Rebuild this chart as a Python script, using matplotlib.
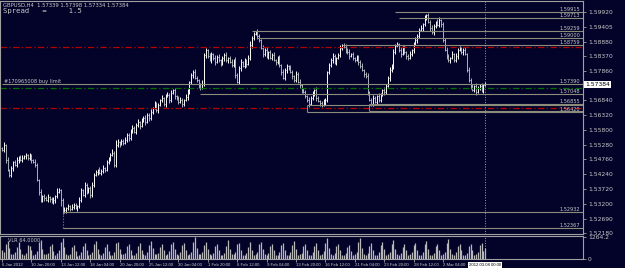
import matplotlib
matplotlib.use('Agg')
import matplotlib.pyplot as plt
import numpy as np

# GBPUSD H4 closes
closes = [1.5509, 1.5527, 1.5474, 1.5439, 1.5422,
          1.5446, 1.5467, 1.5457, 1.5474, 1.5485, 1.5474,
          1.5481, 1.5488, 1.5492, 1.5481, 1.5488, 1.5474, 1.5467, 1.5457,
          1.5404, 1.5362, 1.5334, 1.5348,
          1.5341, 1.5334, 1.5345, 1.5338, 1.5327, 1.5334, 1.5348, 1.5362,
          1.5369, 1.5334, 1.5292,
          1.5299, 1.5306, 1.5313, 1.5303, 1.5310, 1.5317, 1.5306, 1.5313, 1.5334,
          1.5369, 1.5352, 1.5387, 1.5362, 1.5376,
          1.5352, 1.5387, 1.5422,
          1.5432, 1.5439, 1.5429, 1.5436, 1.5446, 1.5439,
          1.5467, 1.5481, 1.5492, 1.5499, 1.5457,
          1.5527, 1.5537, 1.5530, 1.5541, 1.5534,
          1.5544, 1.5562, 1.5551, 1.5579, 1.5586, 1.5572, 1.5597, 1.5607, 1.5593, 1.5614,
          1.5621, 1.5607, 1.5632, 1.5621, 1.5642, 1.5656, 1.5670, 1.5649, 1.5667, 1.5684,
          1.5691, 1.5670, 1.5698, 1.5702, 1.5684, 1.5709, 1.5719, 1.5698, 1.5691, 1.5677,
          1.5684,
          1.5670, 1.5684, 1.5695, 1.5712,
          1.5747, 1.5771, 1.5782,
          1.5761, 1.5754, 1.5736, 1.5726, 1.5740,
          1.5841, 1.5859,
          1.5838, 1.5824, 1.5845, 1.5831, 1.5817, 1.5834, 1.5824, 1.5810, 1.5831, 1.5841,
          1.5824, 1.5831, 1.5817, 1.5806, 1.5824,
          1.5771, 1.5747,
          1.5796, 1.5817, 1.5803, 1.5824, 1.5810, 1.5831,
          1.5876, 1.5901,
          1.5915, 1.5922, 1.5908, 1.5894,
          1.5866, 1.5845, 1.5859, 1.5838, 1.5852,
          1.5831, 1.5841, 1.5824, 1.5817, 1.5831,
          1.5806, 1.5782, 1.5761,
          1.5789, 1.5803, 1.5796, 1.5782,
          1.5768, 1.5754, 1.5775, 1.5747,
          1.5736, 1.5719, 1.5712,
          1.5698, 1.5684, 1.5670, 1.5691,
          1.5705, 1.5719, 1.5691, 1.5681,
          1.5674, 1.5667, 1.5677,
          1.5684,
          1.5782, 1.5806,
          1.5824, 1.5838, 1.5817, 1.5831, 1.5841,
          1.5866, 1.5876, 1.5870, 1.5859,
          1.5852, 1.5838, 1.5845, 1.5831, 1.5824, 1.5834,
          1.5817, 1.5803, 1.5789, 1.5775, 1.5768,
          1.5712, 1.5684, 1.5670,
          1.5691, 1.5677, 1.5698, 1.5684,
          1.5702, 1.5719, 1.5712, 1.5733,
          1.5761, 1.5789, 1.5806,
          1.5852, 1.5873, 1.5880,
          1.5859, 1.5845, 1.5866, 1.5852, 1.5838, 1.5831, 1.5845, 1.5859,
          1.5880, 1.5894, 1.5908,
          1.5929, 1.5936, 1.5950,
          1.5971, 1.5982, 1.5957,
          1.5936, 1.5922, 1.5943,
          1.5957, 1.5946, 1.5964, 1.5950,
          1.5894, 1.5859,
          1.5838, 1.5824, 1.5831, 1.5845, 1.5824, 1.5838,
          1.5859, 1.5866, 1.5852, 1.5859, 1.5845,
          1.5789, 1.5754, 1.5733,
          1.5719, 1.5733, 1.5712, 1.5726, 1.5733, 1.5719, 1.5736, 1.57384]
first_open = 1.5515

# wick sizes in pips above / below the bar body
wick_hi = [6, 9, 4, 12, 5, 8, 3, 7, 10, 4, 6, 9,
           5, 8, 4, 11, 6, 3, 9, 7, 5, 12, 4, 8,
           6, 10, 3, 7, 9, 5, 14, 8, 4, 6, 9, 5,
           7, 3, 10, 6, 8, 4, 12, 7, 5, 9, 6, 4,
           8, 11, 5, 7, 3, 9, 6, 10, 4, 8, 5, 7,
           12, 6, 18, 9, 4, 7, 5, 10, 6, 8, 3, 9,
           7, 5, 11, 4, 8, 6, 10, 5, 7, 9, 4, 12,
           6, 8, 5, 10, 3, 7, 9, 6, 11, 4, 8, 5,
           7, 10, 6, 4, 9, 12, 5, 8, 6, 10, 7, 4,
           9, 15, 6, 8, 5, 11, 7, 4, 9, 6, 10, 5,
           8, 6, 12, 4, 7, 9, 5, 10, 6, 8, 11, 4,
           7, 5, 9, 14, 6, 8, 4, 10, 7, 5, 9, 6,
           11, 4, 8, 6, 10, 5, 7, 9, 3, 12, 6, 8,
           5, 10, 7, 4, 9, 6, 11, 5, 8, 7, 4, 10,
           6, 9, 5, 12, 7, 4, 8, 10, 6, 5, 9, 7,
           11, 6, 4, 8, 10, 5, 7, 9, 6, 12, 4, 8,
           5, 9, 7, 6, 10, 4, 8, 11, 5, 7, 9, 6,
           4, 10, 8, 5, 12, 6, 7, 9, 4, 10, 6, 8,
           5, 11, 7, 9, 4, 6, 10, 5, 8, 12, 7, 6,
           9, 5, 11, 4, 8, 7, 10, 6, 5, 9, 12, 4,
           8, 6, 10, 7, 5, 9, 4, 11, 6, 8, 5, 7,
           10, 4, 9, 6, 8, 5, 12, 7, 6, 9, 5, 8]
wick_lo = [5, 7, 10, 4, 8, 6, 9, 3, 7, 11, 5, 8,
           4, 9, 6, 7, 12, 5, 8, 4, 10, 6, 7, 9,
           5, 8, 11, 4, 6, 9, 7, 5, 20, 8, 4, 10,
           6, 9, 5, 7, 3, 11, 6, 8, 4, 9, 7, 5,
           10, 6, 8, 4, 12, 5, 7, 9, 6, 4, 8, 11,
           5, 7, 9, 6, 10, 4, 8, 5, 7, 12, 6, 9,
           4, 8, 6, 10, 5, 7, 9, 4, 11, 6, 8, 5,
           7, 10, 4, 8, 6, 9, 5, 12, 7, 4, 10, 6,
           8, 5, 9, 7, 4, 11, 6, 8, 10, 5, 7, 9,
           6, 4, 8, 10, 7, 5, 12, 6, 9, 4, 8, 7,
           5, 9, 6, 11, 4, 8, 7, 10, 5, 6, 9, 4,
           8, 12, 5, 7, 10, 6, 4, 9, 8, 5, 11, 7,
           6, 9, 4, 8, 5, 10, 7, 6, 12, 4, 8, 9,
           7, 5, 10, 6, 8, 4, 9, 11, 5, 7, 6, 10,
           4, 8, 6, 9, 5, 12, 7, 4, 10, 8, 6, 5,
           9, 7, 11, 5, 6, 8, 4, 10, 7, 9, 5, 6,
           8, 4, 10, 7, 5, 9, 6, 12, 4, 8, 7, 5,
           11, 6, 8, 4, 9, 7, 5, 10, 6, 12, 8, 4,
           7, 9, 5, 6, 11, 8, 4, 7, 10, 5, 9, 6,
           4, 10, 7, 8, 5, 12, 6, 9, 7, 4, 8, 11,
           6, 5, 9, 7, 10, 4, 8, 6, 12, 5, 7, 9,
           5, 8, 6, 10, 4, 7, 9, 5, 8, 6, 11, 4]

volumes = [520, 380, 860, 1040, 640, 300, 280, 420, 700, 980, 560, 260,
           240, 360, 820, 760, 520, 220, 300, 440, 960, 1100, 600, 280,
           260, 340, 720, 880, 480, 240, 320, 520, 1000, 1180, 700, 300,
           220, 300, 680, 820, 460, 200, 240, 380, 760, 900, 520, 240,
           260, 420, 880, 1020, 560, 260, 220, 340, 700, 840, 480, 220,
           240, 380, 900, 980, 600, 300, 280, 360, 740, 860, 500, 240,
           220, 340, 760, 920, 540, 260, 240, 400, 820, 1060, 620, 280,
           260, 360, 700, 880, 500, 240, 300, 460, 860, 960, 560, 260,
           240, 380, 780, 940, 520, 250, 260, 420, 1000, 1264, 640, 300,
           280, 400, 820, 980, 600, 260, 240, 360, 720, 880, 520, 240,
           220, 340, 760, 1080, 580, 260, 260, 380, 840, 920, 540, 250,
           240, 360, 700, 960, 520, 240, 280, 400, 880, 1000, 560, 260,
           230, 340, 740, 860, 500, 230, 250, 380, 780, 900, 520, 240,
           240, 420, 820, 1040, 560, 250, 260, 360, 760, 880, 520, 230,
           250, 380, 720, 940, 540, 240, 280, 460, 900, 1180, 620, 280,
           240, 360, 760, 880, 500, 230, 230, 340, 700, 820, 480, 220,
           260, 400, 1000, 1200, 640, 280, 240, 360, 760, 900, 520, 240,
           250, 380, 820, 1000, 560, 250, 270, 420, 860, 1080, 580, 260,
           240, 340, 700, 880, 500, 230, 260, 380, 780, 940, 540, 240,
           250, 400, 840, 1020, 560, 250, 230, 360, 720, 860, 500, 230,
           260, 420, 900, 1160, 600, 270, 250, 380, 760, 880, 520, 240,
           240, 360, 720, 860, 500, 240, 260, 400, 780, 920, 480, 620]

time_labels = ['6 Jan 2012', '10 Jan 20:00', '13 Jan 12:00', '18 Jan 04:00',
               '20 Jan 20:00', '25 Jan 12:00', '30 Jan 04:00', '1 Feb 20:00',
               '6 Feb 12:00', '9 Feb 04:00', '13 Feb 20:00', '16 Feb 12:00',
               '21 Feb 04:00', '23 Feb 20:00', '28 Feb 12:00', '2 Mar 04:00']
price_ticks = [1.59920, 1.59405, 1.58880, 1.58370, 1.57860, 1.56840, 1.56320,
               1.55800, 1.55280, 1.54760, 1.54240, 1.53720, 1.53200, 1.52690, 1.52180]

# horizontal line objects: price, first bar, label
obj_prices = [1.59915, 1.59713, 1.59259, 1.59000, 1.58759, 1.57390, 1.57048,
              1.56700, 1.56670, 1.56450, 1.56420, 1.52932, 1.52367]
obj_starts = [214, 216, 136, 139, 186, 0, 108, 200, 166, 200, 166, 33, 33]
obj_labels = ['1.59915', '1.59713', '1.59259', '1.59000', '1.58759', '1.57390', '1.57048',
              '1.56855', '', '', '1.56420', '1.52932', '1.52367']
red_levels = [1.5870, 1.5656]
green_levels = [1.5726]
last_price = 1.57384

BG = '#03032a'
FG = '#c8c8c8'
GRID = '#a0a0a0'
OBJ = '#8c8c7a'
SMALL = 'Liberation Sans'

W, H = 625, 268
fig = plt.figure(figsize=(6.25, 2.68), dpi=100)
fig.set_facecolor(BG)

def px_rect(x0, y0, x1, y1):
    return [x0 / W, 1 - y1 / H, (x1 - x0) / W, (y1 - y0) / H]

ax = fig.add_axes(px_rect(0, 1, 583, 234))
axv = fig.add_axes(px_rect(0, 236, 583, 259), sharex=ax)

n = min(len(closes), len(wick_hi), len(wick_lo), len(volumes))
c = np.array(closes[:n])
o = np.array([first_open] + closes[:n - 1])
hi = np.maximum(o, c) + np.array(wick_hi[:n]) * 0.0001
lo = np.minimum(o, c) - np.array(wick_lo[:n]) * 0.0001
x = np.arange(n)
up = c >= o

for a in (ax, axv):
    a.set_facecolor(BG)
    for s in a.spines.values():
        s.set_color(GRID)
        s.set_linewidth(0.8)

# bars
ax.vlines(x[up], lo[up], hi[up], color='#ffffff', lw=0.7)
ax.vlines(x[~up], lo[~up], hi[~up], color='#aab2bc', lw=0.7)
ax.hlines(o, x - 0.5, x, color='#d0d0d0', lw=0.5)
ax.hlines(c, x, x + 0.5, color='#d0d0d0', lw=0.5)

xmax = 316.2
ax.set_xlim(-1.09, xmax)
ax.set_ylim(1.5215, 1.60305)

# objects
for p, s0, lab in zip(obj_prices, obj_starts, obj_labels):
    ax.hlines(p, s0, xmax, color=OBJ, lw=0.8)
    if lab:
        ax.text(314.6, p, lab, ha='right', va='bottom', fontsize=3.6, color=FG)
ax.vlines(166, 1.56420, 1.56670, color=OBJ, lw=0.8)
ax.vlines(200, 1.56450, 1.56700, color=OBJ, lw=0.8)
ax.vlines(33, 1.52367, 1.52932, color=OBJ, lw=0.8, linestyles=':')
for p in red_levels:
    ax.axhline(p, color='#b40000', lw=0.9, ls=(0, (5, 2, 1, 2)))
for p in green_levels:
    ax.axhline(p, color='#007000', lw=0.9, ls=(0, (5, 2, 1, 2)))
ax.text(1, 1.57390, '#170965008 buy limit', ha='left', va='bottom', fontsize=3.6, color=FG)

# current bar marker
ax.axvline(n - 1, color=GRID, lw=0.7, ls=':')
axv.axvline(n - 1, color=GRID, lw=0.7, ls=':')

# price scale
ax.yaxis.tick_right()
ax.set_yticks(price_ticks)
ax.set_yticklabels([f'{v:.5f}' for v in price_ticks])
ax.tick_params(axis='y', colors=GRID, labelcolor=FG, labelsize=4.3, length=2, width=0.6, pad=1.5)
ax.tick_params(axis='x', bottom=False, labelbottom=False)
ax.text(1.004, last_price, f'{last_price:.5f}', transform=ax.get_yaxis_transform(),
        ha='left', va='center', fontsize=4.3, color='black',
        bbox=dict(facecolor='white', edgecolor='none', pad=0.6))

# volumes
axv.vlines(x, 0, np.array(volumes[:n]), color='#b8b8b8', lw=0.9)
axv.set_ylim(0, 1321)
axv.yaxis.tick_right()
axv.set_yticks([0, 1264.2])
axv.set_yticklabels(['0', '1264.2'])
axv.tick_params(axis='y', colors=GRID, labelcolor=FG, labelsize=4.3, length=2, width=0.6, pad=1.5)
axv.text(3, 1180, 'VLR 64.0000', ha='left', va='top', fontsize=3.6, color=FG)

tick_pos = np.arange(len(time_labels)) * 16
axv.set_xticks(tick_pos)
axv.set_xticklabels(time_labels)
axv.tick_params(axis='x', colors=GRID, labelcolor=FG, labelsize=3.1, length=2, width=0.6, pad=1.2)
for t in axv.get_xticklabels():
    t.set_horizontalalignment('left')
    t.set_family(SMALL)
axv.text(n - 1, -0.17, '2012.03.08 00:00', transform=axv.get_xaxis_transform(),
         ha='center', va='top', fontsize=3.1, family=SMALL, color='black',
         bbox=dict(facecolor='white', edgecolor='none', pad=0.5))

# header
fig.text(3 / W, 1 - 5 / H, 'GBPUSD,H4  1.57339 1.57398 1.57334 1.57384',
         ha='left', va='center', fontsize=3.8, color=FG)
fig.text(3 / W, 1 - 11 / H, 'Spread   =     1.5', family='DejaVu Sans Mono',
         ha='left', va='center', fontsize=5.2, color=FG)

fig.savefig('out.png', dpi=100, facecolor=BG)
